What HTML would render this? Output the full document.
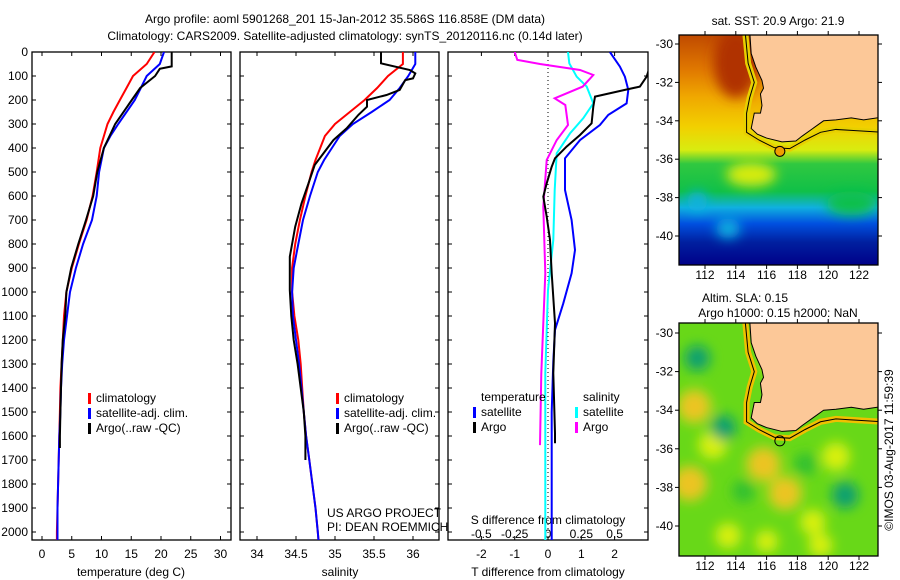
<!DOCTYPE html>
<html><head><meta charset="utf-8">
<style>
html,body{margin:0;padding:0;background:#fff;}
svg{display:block;font-family:"Liberation Sans",sans-serif;}
text{font-size:12px;fill:#000;}
</style></head>
<body>
<svg id="chart" width="900" height="580" viewBox="0 0 900 580" xmlns="http://www.w3.org/2000/svg">
<defs>
<clipPath id="cp1"><rect x="32" y="52" width="199" height="488"/></clipPath>
<clipPath id="cp2"><rect x="240" y="52" width="199" height="488"/></clipPath>
<clipPath id="cp3"><rect x="448" y="52" width="200" height="488"/></clipPath>
<clipPath id="cpm1"><rect x="679" y="35" width="199" height="230"/></clipPath>
<clipPath id="cpm2"><rect x="679" y="323" width="199" height="233"/></clipPath>
<linearGradient id="sstg" x1="0" y1="0" x2="0" y2="1">
<stop offset="0" stop-color="#c04a00"/><stop offset="0.15" stop-color="#e07800"/>
<stop offset="0.27" stop-color="#f0a800"/><stop offset="0.4" stop-color="#f2d000"/>
<stop offset="0.5" stop-color="#d8ec10"/><stop offset="0.56" stop-color="#30c840"/>
<stop offset="0.68" stop-color="#10c048"/><stop offset="0.75" stop-color="#10b0e0"/>
<stop offset="0.82" stop-color="#0050e0"/><stop offset="0.9" stop-color="#0020a0"/>
<stop offset="1" stop-color="#000088"/></linearGradient>
<filter id="blur6" x="-50%" y="-50%" width="200%" height="200%"><feGaussianBlur stdDeviation="6"/></filter>
</defs>
<g>
<text x="345" y="23" text-anchor="middle">Argo profile: aoml 5901268_201 15-Jan-2012 35.586S 116.858E (DM data)</text>
<text x="345" y="40" text-anchor="middle">Climatology: CARS2009. Satellite-adjusted climatology: synTS_20120116.nc (0.14d later)</text>
</g>
<g id="p1"></g>
<g id="p2"></g>
<g id="p3"></g>
<g id="m1"></g>
<g id="m2"></g>
</svg>
<script>
// ---- profile data ----
const depthsClim = [0,50,100,150,200,250,300,350,400,450,500,600,700,800,900,1000,1100,1200,1300,1400,1500,1600,1700,1800,1900,2000,2040];
const climT = [18.9,17.6,15.3,14.2,13.1,12.0,11.0,10.4,9.8,9.5,9.2,8.5,7.5,6.2,5.0,4.1,3.7,3.5,3.3,3.1,3.0,2.9,2.8,2.7,2.6,2.5,2.5];
const satT = [20.5,19.8,17.6,16.6,15.6,14.2,12.8,11.5,10.4,10.0,9.6,9.2,8.4,6.9,5.7,4.7,4.2,3.7,3.4,3.2,3.1,2.9,2.8,2.7,2.6,2.6,2.6];
const argoDepthT = [0,60,70,100,150,200,300,400,500,600,700,800,900,1000,1100,1200,1300,1400,1500,1600,1650];
const argoT = [21.8,21.8,19.8,19.0,16.5,15.1,12.3,10.4,9.3,8.6,7.4,6.1,4.9,4.1,3.9,3.5,3.3,3.2,3.1,3.0,3.0];
const climS = [35.87,35.87,35.68,35.54,35.38,35.19,35.0,34.87,34.81,34.75,34.7,34.62,34.55,34.49,34.45,34.45,34.48,34.53,34.56,34.58,34.6,34.63,34.67,34.71,34.75,34.78,34.79];
const satS = [36.03,36.03,35.94,35.83,35.7,35.47,35.23,35.06,34.96,34.86,34.78,34.68,34.59,34.53,34.47,34.45,34.46,34.5,34.54,34.57,34.6,34.63,34.67,34.71,34.75,34.78,34.79];
const argoDepthS = [0,47,75,89,110,117,158,179,200,228,262,318,367,471,547,631,728,853,992,1100,1200,1300,1400,1500,1600,1700];
const argoS = [35.59,35.59,35.96,36.03,36.0,35.9,35.83,35.66,35.41,35.41,35.3,35.15,34.98,34.74,34.66,34.57,34.49,34.42,34.42,34.44,34.47,34.52,34.56,34.6,34.62,34.62];
const dTsatDepth = [0,61,103,158,214,262,304,367,443,575,700,825,922,1047,1158,1290,1500,1922,2040];
const dTsat = [1.86,2.16,2.31,2.41,2.36,1.81,1.56,0.96,0.51,0.51,0.71,0.81,0.71,0.46,0.21,0.16,0.11,0.11,0.11];
const dTargoDepth = [0,103,144,158,186,228,297,346,394,443,478,547,603,686,783,922,1130,1338,1589,1630];
const dTargo = [3.2,2.96,2.76,2.31,1.41,1.36,1.31,0.96,0.56,0.21,0.11,-0.04,-0.14,-0.04,0.06,0.11,0.21,0.16,0.21,0.21];
const dSsatDepth = [0,47,103,144,214,276,339,422,575,783,992,1339,1922,2040];
const dSsat = [0.15,0.16,0.215,0.29,0.34,0.265,0.165,0.065,0.05,0.04,0.0,-0.02,-0.02,-0.02];
const dSargoDepth = [0,33,50,75,96,144,193,221,304,367,450,644,922,1339,1638];
const dSargo = [-0.25,-0.23,-0.06,0.24,0.34,0.26,0.05,0.13,0.15,0.065,-0.01,-0.035,-0.02,-0.05,-0.06];
const depthTicks = [0,100,200,300,400,500,600,700,800,900,1000,1100,1200,1300,1400,1500,1600,1700,1800,1900,2000];
const tempTicks = [0,5,10,15,20,25,30];
const salTicks = [34,34.5,35,35.5,36];
const salTickLabels = ["34","34.5","35","35.5","36"];
const tdiffTicks = [-2,-1,0,1,2];
const sdiffTicks = [-0.5,-0.25,0,0.25,0.5];
const sdiffLabels = ["-0.5","-0.25","0","0.25","0.5"];
const latTicks = [-30,-32,-34,-36,-38,-40];
const lonTicks = [112,114,116,118,120,122];

const NS = "http://www.w3.org/2000/svg";
function mk(parent, tag, attrs, txt){
  const e = document.createElementNS(NS, tag);
  for (const k in attrs) e.setAttribute(k, attrs[k]);
  if (txt !== undefined) e.textContent = txt;
  parent.appendChild(e); return e;
}
const yD = d => 52 + d * 0.24;
const xT = t => 42 + t * 5.95;
const xS = s => 257 + (s - 34) * 78;
const xDT = t => 548 + t * 33.3;
const xDS = s => 548 + s * 133.3;

function frame(g, x0, x1, name){
  const r = mk(g,'rect',{x:x0,y:52,width:x1-x0,height:488,fill:'none',stroke:'#000','stroke-width':1.3});
  
  
  depthTicks.forEach(d=>{
    mk(g,'line',{x1:x0,x2:x0+4,y1:yD(d),y2:yD(d),stroke:'#000'});
    mk(g,'line',{x1:x1-4,x2:x1,y1:yD(d),y2:yD(d),stroke:'#000'});
  });
}
function xticks(g, vals, labels, fx, ly, name){
  vals.forEach((v,i)=>{
    const x = fx(v);
    mk(g,'line',{x1:x,x2:x,y1:540,y2:536,stroke:'#000'});
    mk(g,'line',{x1:x,x2:x,y1:52,y2:56,stroke:'#000'});
    const t = mk(g,'text',{x:x,y:ly,'text-anchor':'middle'}, labels[i]);
    
    
  });
}
function line(g, depths, vals, fx, color, clip, name, w){
  const pts = depths.map((d,i)=> fx(vals[i]).toFixed(1)+','+yD(d).toFixed(1)).join(' ');
  const p = mk(g,'polyline',{points:pts,fill:'none',stroke:color,'stroke-width':w||2,'clip-path':'url(#'+clip+')'});
  
  
}
function legend(g, x, y, items){
  items.forEach((it,i)=>{
    if (it.c) mk(g,'rect',{x:x-8,y:y+i*15-9,width:3,height:11,fill:it.c});
    const t = mk(g,'text',{x:x,y:y+i*15}, it.t);
    
    
  });
}

// Panel 1
const p1 = document.getElementById('p1');
frame(p1, 32, 231, 'temperature');
depthTicks.forEach(d=>{
  const t = mk(p1,'text',{x:28,y:yD(d)+4,'text-anchor':'end'}, String(d));
  
  
});
xticks(p1, tempTicks, tempTicks.map(String), xT, 558, 'temperature');
line(p1, depthsClim, climT, xT, '#ff0000', 'cp1', 'climatology-temperature-line');
line(p1, depthsClim, satT, xT, '#0000ff', 'cp1', 'satellite-temperature-line');
line(p1, argoDepthT, argoT, xT, '#000000', 'cp1', 'argo-temperature-line');
legend(p1, 96, 402, [{t:'climatology',c:'#ff0000'},{t:'satellite-adj. clim.',c:'#0000ff'},{t:'Argo(..raw -QC)',c:'#000'}]);
let tl = mk(p1,'text',{x:131,y:576,'text-anchor':'middle'},'temperature (deg C)');
 

// Panel 2
const p2 = document.getElementById('p2');
frame(p2, 240, 439, 'salinity');
xticks(p2, salTicks, salTickLabels, xS, 558, 'salinity');
line(p2, depthsClim, climS, xS, '#ff0000', 'cp2', 'climatology-salinity-line');
line(p2, depthsClim, satS, xS, '#0000ff', 'cp2', 'satellite-salinity-line');
line(p2, argoDepthS, argoS, xS, '#000000', 'cp2', 'argo-salinity-line');
legend(p2, 344, 402, [{t:'climatology',c:'#ff0000'},{t:'satellite-adj. clim.',c:'#0000ff'},{t:'Argo(..raw -QC)',c:'#000'}]);
mk(p2,'text',{x:327,y:517},'US ARGO PROJECT');
mk(p2,'text',{x:327,y:531},'PI: DEAN ROEMMICH');
tl = mk(p2,'text',{x:340,y:576,'text-anchor':'middle'},'salinity');
 

// Panel 3
const p3 = document.getElementById('p3');
frame(p3, 448, 648, 'difference');
mk(p3,'line',{x1:548,x2:548,y1:52,y2:540,stroke:'#000','stroke-dasharray':'1,3'});
xticks(p3, tdiffTicks, tdiffTicks.map(String), xDT, 558, 't-diff');
sdiffTicks.forEach((v,i)=>{
  const t = mk(p3,'text',{x:xDS(v),y:538,'text-anchor':'middle'}, sdiffLabels[i]);
   
});
mk(p3,'text',{x:548,y:524,'text-anchor':'middle'},'S difference from climatology');
tl = mk(p3,'text',{x:548,y:576,'text-anchor':'middle'},'T difference from climatology');
 
line(p3, dTsatDepth, dTsat, xDT, '#0000ff', 'cp3', 'temperature-satellite-diff-line');
line(p3, dSsatDepth, dSsat, xDS, '#00ffff', 'cp3', 'salinity-satellite-diff-line');
line(p3, dSargoDepth, dSargo, xDS, '#ff00ff', 'cp3', 'salinity-argo-diff-line');
line(p3, dTargoDepth, dTargo, xDT, '#000000', 'cp3', 'temperature-argo-diff-line');
legend(p3, 481, 401, [{t:'temperature'},{t:'satellite',c:'#0000ff'},{t:'Argo',c:'#000'}]);
legend(p3, 583, 401, [{t:'salinity'},{t:'satellite',c:'#00ffff'},{t:'Argo',c:'#ff00ff'}]);

// ---- Maps ----
const coast = [[114.9,-29.3],[115.0,-30.5],[115.3,-31.2],[115.7,-31.9],[115.8,-32.3],[115.6,-32.6],[115.7,-33.2],[115.6,-33.6],[115.2,-33.6],[115.1,-34.0],[115.0,-34.4],[115.4,-34.7],[116,-34.9],[117,-35.1],[117.9,-35.05],[118.3,-34.8],[119,-34.4],[119.7,-34.0],[120.5,-33.95],[121.5,-33.85],[122.3,-33.95],[123.6,-33.8],[123.6,-29.3]];
const shelf = [[114.6,-29.3],[114.8,-31],[115.2,-32.0],[114.9,-32.8],[114.7,-33.6],[114.7,-34.6],[115.5,-35.0],[116.5,-35.4],[117.5,-35.45],[118.5,-35.0],[119.5,-34.6],[120.5,-34.45],[121.5,-34.5],[123.6,-34.6]];
const slaLon = [111.0,111.3,115.8,117.2,120.5,112.5,116.5,119.0,111.5,113.2,121.1,118.5,114.5,113.5,119.5,116.0];
const slaLat = [-37.8,-33.8,-36.8,-38.3,-36.4,-35.8,-31.5,-39.8,-31.3,-34.9,-38.4,-36.8,-38.2,-40.5,-41.0,-40.8];
const slaVal = [0.5,0.4,0.45,0.4,0.3,0.3,0.25,0.2,-0.2,-0.2,-0.25,-0.1,-0.1,0.2,0.15,0.1];
const argoLon = 116.86, argoLat = -35.59;
const lonX = l => 705 + (l - 112) * 15.4;

function drawMap(g, y0, y1, latY, clip, kind){
  const x0=679, x1=878;
  const mg = mk(g,'g',{'clip-path':'url(#'+clip+')'});
  if (kind==='sst'){
    mk(mg,'rect',{x:x0,y:y0,width:x1-x0,height:y1-y0,fill:'url(#sstg)'});
    const bl = mk(mg,'g',{filter:'url(#blur6)'});
    mk(bl,'ellipse',{cx:lonX(114.0),cy:latY(-31),rx:22,ry:35,fill:'#b03000'});
    mk(bl,'ellipse',{cx:lonX(115.0),cy:latY(-36.8),rx:25,ry:12,fill:'#d8ec10'});
    mk(bl,'ellipse',{cx:lonX(121.5),cy:latY(-38.3),rx:25,ry:12,fill:'#10c048'});
    mk(bl,'ellipse',{cx:lonX(111.5),cy:latY(-38.2),rx:10,ry:10,fill:'#10b0e0'});
    mk(bl,'ellipse',{cx:lonX(113.5),cy:latY(-39.6),rx:12,ry:10,fill:'#10b0e0'});
  } else {
    mk(mg,'rect',{x:x0,y:y0,width:x1-x0,height:y1-y0,fill:'#68d818'});
    const bl = mk(mg,'g',{filter:'url(#blur6)'});
    slaLon.forEach((lo,i)=>{
      const v = slaVal[i];
      const c = v>0.35?'#f0a020':(v>0?'#d8f010':(v>-0.15?'#30c030':'#10a070'));
      const e = mk(bl,'circle',{cx:lonX(lo),cy:latY(slaLat[i]),r:10+Math.abs(v)*14,fill:c});
      
      
      if (v>0.35) mk(bl,'circle',{cx:lonX(lo),cy:latY(slaLat[i]),r:18,fill:'#e8e820',opacity:0.5});
    });
  }
  const sp = shelf.map(p=>lonX(p[0])+','+latY(p[1])).join(' ');
  mk(mg,'polyline',{points:sp,fill:'none',stroke:kind==='sst'?'#e8d000':'#f0c000','stroke-width':6});
  const cp = coast.map(p=>lonX(p[0])+','+latY(p[1])).join(' ');
  const land = mk(mg,'polygon',{points:cp,fill:'#fcc898',stroke:'#000','stroke-width':1});
   
  mk(mg,'polyline',{points:sp,fill:'none',stroke:'#000','stroke-width':1});
  const c = mk(mg,'circle',{cx:lonX(argoLon),cy:latY(argoLat),r:5,fill:kind==='sst'?'#f0a000':'none',stroke:'#000'});
   
  mk(g,'rect',{x:x0,y:y0,width:x1-x0,height:y1-y0,fill:'none',stroke:'#000','stroke-width':1.3});
  latTicks.forEach(la=>{
    const y = latY(la);
    mk(g,'line',{x1:x0-4,x2:x0,y1:y,y2:y,stroke:'#000'});
    mk(g,'line',{x1:x1,x2:x1+4,y1:y,y2:y,stroke:'#000'});
    const t = mk(g,'text',{x:x0-6,y:y+4,'text-anchor':'end'}, String(la));
     
  });
  lonTicks.forEach(lo=>{
    const x = lonX(lo);
    mk(g,'line',{x1:x,x2:x,y1:y1,y2:y1+4,stroke:'#000'});
    mk(g,'line',{x1:x,x2:x,y1:y0-4,y2:y0,stroke:'#000'});
    const t = mk(g,'text',{x:x,y:y1+14,'text-anchor':'middle'}, String(lo));
     
  });
}
const m1 = document.getElementById('m1');
drawMap(m1, 35, 265, la => 44 + (-30 - la) * 19.2, 'cpm1', 'sst');
mk(m1,'text',{x:778,y:25,'text-anchor':'middle'},'sat. SST: 20.9 Argo: 21.9');
const m2 = document.getElementById('m2');
drawMap(m2, 323, 556, la => 333 + (-30 - la) * 19.3, 'cpm2', 'sla');
mk(m2,'text',{x:745,y:302,'text-anchor':'middle'},'Altim. SLA: 0.15');
mk(m2,'text',{x:778,y:317,'text-anchor':'middle'},'Argo h1000: 0.15 h2000: NaN');
const cr = mk(m2,'text',{x:893,y:450,'text-anchor':'middle',transform:'rotate(-90 893 450)'},'©IMOS 03-Aug-2017 11:59:39');
 
</script>
</body></html>
